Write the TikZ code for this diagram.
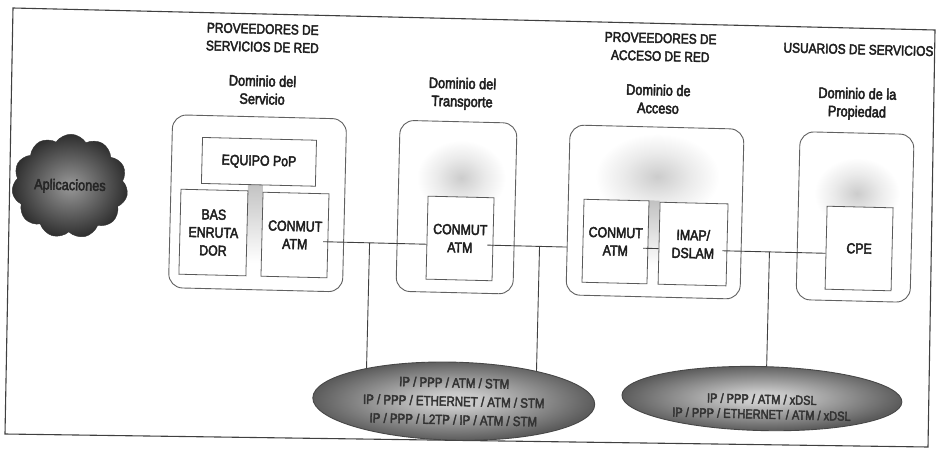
\documentclass[tikz,border=0pt]{standalone}
\usepackage{fontspec}
\setmainfont{Liberation Sans}[FakeStretch=0.85,FakeBold=3]
\usetikzlibrary{shapes.geometric,shapes.symbols,backgrounds}
\pgfdeclareradialshading{ellshade}{\pgfpointorigin}{color(0bp)=(black!17); color(5bp)=(black!22); color(25bp)=(black!64); color(50bp)=(black!64)}
\pgfdeclareradialshading{cloudshade}{\pgfpointorigin}{color(0bp)=(black!40); color(25bp)=(black!82); color(50bp)=(black!82)}
\pgfdeclareradialshading{glowshade}{\pgfpointorigin}{color(0bp)=(black!20); color(12bp)=(black!8); color(22bp)=(white); color(50bp)=(white)}
\begin{document}
\begin{tikzpicture}[x=1pt,y=-1pt,
  tilt/.style={rotate around={-1.4:(470,228)}},
  frame/.style={draw=black!75, line width=1.1pt},
  ttl/.style={font=\fontsize{14}{18}\selectfont, align=center, inner sep=0pt, text=black!88},
  dom/.style={font=\fontsize{15}{18}\selectfont, align=center, inner sep=0pt, text=black!88},
  dombox/.style={draw=black!62, line width=0.9pt, rounded corners=14pt, fill=white, inner sep=0pt},
  unit/.style={draw=black!65, line width=0.8pt, fill=white, inner sep=0pt, align=center,
    font=\fontsize{14.5}{18}\selectfont, text=black!88},
  cloudn/.style={cloud, cloud puffs=11, cloud puff arc=115, cloud ignores aspect,
    minimum width=116pt, minimum height=104pt, shade, shading=cloudshade, draw=black!80,
    inner sep=0pt, font=\fontsize{15}{16}\selectfont, text=black!85},
  ell/.style={ellipse, shade, shading=ellshade, draw=black!72, line width=0.9pt, inner sep=0pt,
    align=center, font=\fontsize{13.5}{18.5}\selectfont, text=black!80},
  elltext/.style={align=center, inner sep=0pt, font=\fontsize{13}{15}\selectfont, text=black!80},
  conn/.style={draw=black!75, line width=0.9pt}
]
\begin{scope}[on background layer]
  \fill[white] (0,0) rectangle (940,455);
\end{scope}
\useasboundingbox (0,0) rectangle (940,455);
\draw[frame] (13,8) -- (935,30) -- (928,447) -- (5,434) -- cycle;

\begin{scope}[tilt, transform shape]
  % headings
  \node[ttl] (T1) at (258,43) {PROVEEDORES DE\\SERVICIOS DE RED};
  \node[ttl] (T2) at (656,42.5) {PROVEEDORES DE\\ACCESO DE RED};
  \node[ttl] (T3) at (854,40) {USUARIOS DE SERVICIOS};
  \node[dom] (D1) at (259,95) {Dominio del\\Servicio};
  \node[dom] (D2) at (459,94) {Dominio del\\Transporte};
  \node[dom] (D3) at (655,94.5) {Dominio de\\Acceso};
  \node[dom] (D4) at (854,94.5) {Dominio de la\\Propiedad};

  % cloud
  \node[cloudn] (AP) at (69,196) {Aplicaciones};

  % domain boxes
  \node[dombox, minimum width=174pt, minimum height=173pt] (B1) at (257,208.5) {};
  \node[dombox, minimum width=117pt, minimum height=171pt] (B2) at (456,207.5) {};
  \node[dombox, minimum width=174pt, minimum height=170pt] (B3) at (654.6,207.5) {};
  \node[dombox, minimum width=114pt, minimum height=168pt] (B4) at (854.7,207.6) {};

  % soft grey glows
  \shade[top color=black!24, bottom color=white] (247,188) rectangle (262,268);
  \shade[shading=glowshade] (460,178) ellipse [x radius=50, y radius=42];
  \shade[shading=glowshade] (656,172) ellipse [x radius=70, y radius=48];
  \shade[top color=black!24, bottom color=white] (648,196) rectangle (659,262);
  \shade[shading=glowshade] (856,184) ellipse [x radius=48, y radius=40];

  % equipment boxes
  \node[unit, minimum width=114pt, minimum height=46pt] (EQ) at (257.4,167) {EQUIPO PoP};
  \node[unit, minimum width=67pt, minimum height=85pt] (BAS) at (213.6,238.8) {BAS\\ENRUTA\\DOR};
  \node[unit, minimum width=66pt, minimum height=84pt] (C1) at (295.2,239.3) {CONMUT\\ATM};
  \node[unit, minimum width=66pt, minimum height=83pt] (C2) at (460.3,238.7) {CONMUT\\ATM};
  \node[unit, minimum width=65pt, minimum height=83pt] (C3) at (615.8,238) {CONMUT\\ATM};
  \node[unit, minimum width=68pt, minimum height=82pt] (IM) at (693.4,238.6) {IMAP/\\DSLAM};
  \node[unit, minimum width=66pt, minimum height=83pt] (CPE) at (859.5,239) {CPE};

  % protocol stacks
  \node[ell, minimum width=282pt, minimum height=78pt] (E1) at (458,401.5)
    {IP / PPP / ATM / STM\\IP / PPP / ETHERNET / ATM / STM\\IP / PPP / L2TP / IP / ATM / STM};
  \node[ell, minimum width=280pt, minimum height=64pt,
    label={[elltext, yshift=-8pt, name=E2t]center:{IP / PPP / ATM / xDSL\\IP / PPP / ETHERNET / ATM / xDSL}}]
    (E2) at (766,391.4) {};

  % connectors
  \coordinate (a1) at ([shift={(-5,6)}]C1.east);
  \coordinate (a2) at ([shift={(-6,6)}]C2.east);
  \coordinate (a3) at ([shift={(-5,6)}]C3.east);
  \coordinate (a4) at ([shift={(-5,6)}]IM.east);
  \draw[conn] (a1) -- (a1 -| C2.west);
  \draw[conn] (a2) -- (a2 -| B3.west);
  \draw[conn] (a3) -- (a3 -| IM.west);
  \draw[conn] (a4) -- (a4 -| CPE.west);
  \coordinate (x1) at (370,0);
  \coordinate (x2) at (540,0);
  \coordinate (x3) at (770,0);
  \coordinate (J1) at (a1 -| x1);
  \coordinate (J2) at (a2 -| x2);
  \coordinate (J3) at (a4 -| x3);
  \begin{scope}[on background layer]
    \draw[conn] (J1) -- (J1 |- E1.center);
    \draw[conn] (J2) -- (J2 |- E1.center);
    \draw[conn] (J3) -- (J3 |- E2.center);
  \end{scope}
\end{scope}
\end{tikzpicture}
\end{document}
